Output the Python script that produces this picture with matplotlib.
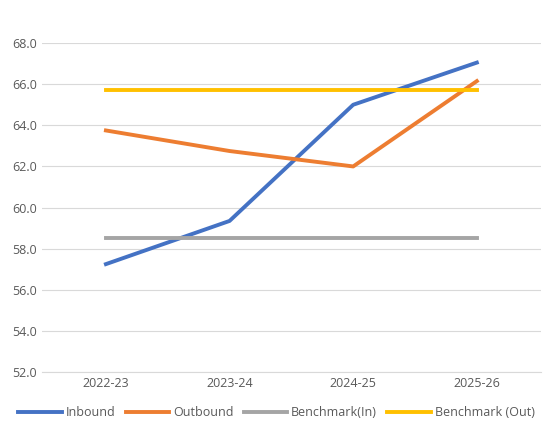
import matplotlib
matplotlib.use('Agg')
import matplotlib.pyplot as plt

plt.rcParams['font.family'] = ['Open Sans', 'DejaVu Sans']

# datos
years = ['2022-23', '2023-24', '2024-25', '2025-26']
inbound = [57.25, 59.35, 65.0, 67.05]
outbound = [63.75, 62.75, 62.0, 66.15]
bench_in = [58.5, 58.5, 58.5, 58.5]
bench_out = [65.7, 65.7, 65.7, 65.7]

fig, ax = plt.subplots(figsize=(5.55, 4.44), dpi=100)
x = range(len(years))
ax.plot(x, inbound, color='#4472C4', lw=2.8, label='Inbound')
ax.plot(x, outbound, color='#ED7D31', lw=2.8, label='Outbound')
ax.plot(x, bench_in, color='#A5A5A5', lw=2.8, label='Benchmark(In)')
ax.plot(x, bench_out, color='#FFC000', lw=2.8, label='Benchmark (Out)')

ax.set_xticks(list(x))
ax.set_xticklabels(years)
ax.set_xlim(-0.52, 3.52)
ax.set_ylim(52, 68)
ax.set_yticks(range(52, 69, 2))
ax.set_yticklabels([f'{v:.1f}' for v in range(52, 69, 2)])
ax.tick_params(length=0, labelsize=9, colors='#595959')
ax.grid(axis='y', color='#D9D9D9', lw=0.8)
ax.set_axisbelow(True)
for s in ax.spines.values():
    s.set_visible(False)
ax.spines['bottom'].set_visible(True)
ax.spines['bottom'].set_color('#D9D9D9')

ax.legend(loc='upper center', bbox_to_anchor=(0.47, -0.07), ncol=4, frameon=False,
          fontsize=9, handlelength=3.5, columnspacing=0.8, handletextpad=0.3,
          labelcolor='#595959')

plt.subplots_adjust(left=0.075, right=0.975, top=0.903, bottom=0.162)
plt.savefig('out.png')
